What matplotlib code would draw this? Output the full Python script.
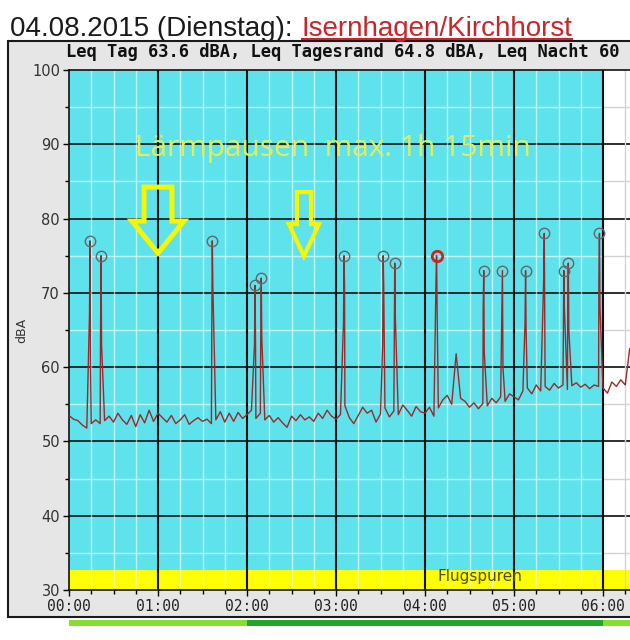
import numpy as np
import matplotlib
matplotlib.use("Agg")
import matplotlib.pyplot as plt
from matplotlib.patches import Rectangle, Polygon
from matplotlib.lines import Line2D
from matplotlib.transforms import blended_transform_factory

# noise floor, one value every 3 minutes from 00:00
level_base = [
    53.5, 53.0, 52.8, 52.2, 51.8, 52.4, 52.9, 52.4, 52.8, 53.4, 52.6, 53.8, 52.9, 52.3, 53.5, 52.0, 53.6, 52.5, 54.2, 52.7,
    53.8, 53.2, 52.6, 53.5, 52.4, 52.9, 53.6, 52.3, 52.8, 53.2, 52.7, 53.0, 52.4, 52.9, 54.0, 52.6, 53.8, 52.7, 53.9, 53.1,
    53.6, 54.2, 53.1, 53.8, 52.9, 53.5, 52.6, 53.2, 52.5, 51.9, 53.4, 52.8, 53.6, 52.9, 53.3, 52.7, 53.8, 53.1, 54.2, 53.4,
    53.0, 53.6, 54.8, 53.2, 52.4, 53.5, 54.6, 53.8, 54.2, 52.6, 53.7, 54.5, 53.3, 54.1, 53.6, 54.9, 54.2, 53.4, 54.7, 54.0,
    53.8, 54.6, 53.4, 54.5, 55.6, 56.2, 55.0, 61.8, 55.8, 55.4, 54.6, 55.2, 54.4, 55.1, 54.8, 55.8, 55.2, 56.0, 55.4, 56.4,
    56.0, 55.6, 56.8, 57.2, 56.4, 57.6, 56.8, 57.4, 56.9, 57.8, 57.2, 57.6, 57.0, 57.5, 57.9, 57.3, 57.7, 57.1, 57.6, 57.4,
    57.2, 56.5, 58.0, 57.4, 58.3, 57.6, 62.5,
]
step_h = 0.05

# overflights (hours, dBA)
peak_times = [0.236, 0.36, 1.61, 2.09, 2.16, 3.09, 3.53, 3.66, 4.13, 4.66, 4.87, 5.13, 5.34, 5.56, 5.61, 5.96]
peak_levels = [77, 75, 77, 71, 72, 75, 75, 74, 75, 73, 73, 73, 78, 73, 74, 78]
peak_pre = [67, 64, 64, 63, 63, 66, 63, 62, 72, 68, 68, 66, 72, 63, 68, 72]
peak_post = [60, 63, 71, 63, 64, 71, 71, 67, 68, 62, 60, 65, 66, 68, 65, 68]
red_peak = 8

hour_labels = ["00:00", "01:00", "02:00", "03:00", "04:00", "05:00", "06:00", ""]
bar_start = [0, 2, 6]
bar_end = [2, 6, 7.5]
bar_colors = ["#86df2e", "#22a62a", "#86df2e"]

W, H = 630, 640
cyan = "#5ee3ec"

fig = plt.figure(figsize=(W / 100, H / 100), dpi=100)
fig.patch.set_facecolor("white")

# grey panel
fig.add_artist(Rectangle((8 / W, 1 - 617 / H), 1.2, (617 - 41) / H, transform=fig.transFigure,
                         fc="#e6e6e6", ec="#1a1a1a", lw=1.5, zorder=-5))

ax = fig.add_axes([69 / W, 1 - 590 / H, 7 * 89 / W, 520 / H])
ax.set_xlim(0, 7)
ax.set_ylim(30, 100)
ax.set_facecolor("white")
ax.axvspan(0, 6, color=cyan, lw=0, zorder=0)
ax.axhspan(30, 32.7, color="#ffff00", lw=0, zorder=0.5)

# grid
ax.hlines(range(40, 100, 10), 0, 7, color="#1e1e1e", lw=1.3, zorder=1)
minor_y = list(range(35, 100, 10))
ax.hlines(minor_y, 0, 6, color="white", alpha=0.6, lw=1, zorder=2)
ax.hlines(minor_y, 6, 7, color="#d2d2d2", lw=1, zorder=2)
quarters = [q / 4 for q in range(1, 28) if q % 4]
ax.vlines([q for q in quarters if q < 6], 30, 100, color="white", alpha=0.6, lw=1, zorder=2)
ax.vlines([q for q in quarters if q > 6], 30, 100, color="#d2d2d2", lw=1, zorder=2)
ax.vlines(range(1, 7), 30, 100, color="#111111", lw=1.5, zorder=3)

for s in ax.spines.values():
    s.set_color("#111111")
    s.set_linewidth(1.2)

ax.set_xticks(range(8))
ax.set_xticklabels(hour_labels)
ax.set_xticks(quarters, minor=True)
ax.set_yticks(range(30, 101, 10))
ax.set_yticks(range(35, 100, 10), minor=True)
ax.tick_params(which="major", length=4.5, width=1, pad=2)
ax.tick_params(which="minor", length=3, width=1)
ax.tick_params(axis="x", labelsize=10.5, labelcolor="#222222", labelfontfamily="DejaVu Sans Mono")
ax.tick_params(axis="y", labelsize=10.5, labelcolor="#333333")

# level line
base_t = np.arange(len(level_base)) * step_h
pt = np.array(peak_times)
t_all = np.concatenate([base_t, pt - 0.006, pt, pt + 0.006])
v_all = np.concatenate([level_base, peak_pre, peak_levels, peak_post])
order = np.argsort(t_all)
ax.plot(t_all[order], v_all[order], color="#9a2a2a", lw=1.0, zorder=4)

ax.plot(peak_times, peak_levels, "o", ms=7.5, mfc="none", mec="#666666", mew=1.0, zorder=5)
ax.plot(peak_times[red_peak], peak_levels[red_peak], "o", ms=7.5, mfc="none", mec="#d02020", mew=2, zorder=5)

ax.text(4.62, 31.75, "Flugspuren", ha="center", va="center", fontsize=11, color="#4d4d1a", zorder=6)
ax.text(0.742, 88.4, "Lärmpausen  max. 1h 15min", family="Open Sans", fontsize=21.5,
        color="#e2ee58", va="baseline", zorder=6)

# hollow arrows
def arrow(cx, s, w, top, base, tip, lw):
    pts = [(cx - s, top), (cx + s, top), (cx + s, base), (cx + w, base), (cx, tip),
           (cx - w, base), (cx - s, base)]
    ax.add_patch(Polygon(pts, closed=True, fill=False, ec="#f6f600", lw=lw, joinstyle="miter", zorder=6))

arrow(1.0, 0.157, 0.292, 84.24, 79.66, 75.36, 3.6)
arrow(2.64, 0.079, 0.169, 83.57, 79.26, 74.95, 3.0)

# day / night bar under the axis
trans = blended_transform_factory(ax.transData, ax.transAxes)
for s, e, c in zip(bar_start, bar_end, bar_colors):
    ax.add_patch(Rectangle((s, -0.0692), e - s, 0.0115, transform=trans, color=c, lw=0, clip_on=False))

fig.text(22 / W, 1 - 330 / H, "dBA", rotation=90, ha="center", va="center", fontsize=9, color="#333333")

fig.text(66 / W, 1 - 52 / H, "Leq Tag 63.6 dBA, Leq Tagesrand 64.8 dBA, Leq Nacht 60",
         family="DejaVu Sans Mono", weight="bold", fontsize=12.3, va="center", color="#111111")

t1 = fig.text(10 / W, 1 - 36 / H, "04.08.2015 (Dienstag):", family="Liberation Sans", fontsize=20,
              va="baseline", color="#1a1a1a")
fig.canvas.draw()
bb = t1.get_window_extent()
t2 = fig.text((bb.x1 + 9) / W, 1 - 36 / H, "Isernhagen/Kirchhorst", family="Liberation Sans", fontsize=20,
              va="baseline", color="#c8262a")
fig.canvas.draw()
bb2 = t2.get_window_extent()
fig.add_artist(Line2D([bb2.x0 / W, bb2.x1 / W], [1 - 38.5 / H, 1 - 38.5 / H], transform=fig.transFigure,
                      color="#c8262a", lw=1.5))

fig.savefig("out.png", dpi=100)
